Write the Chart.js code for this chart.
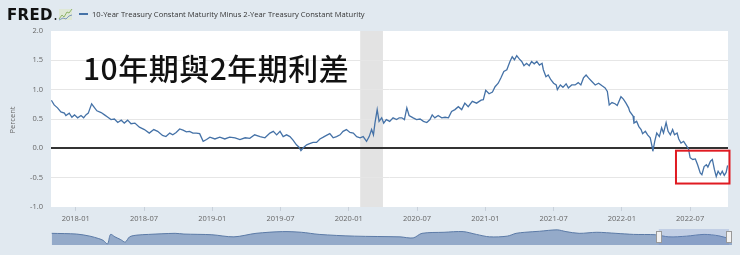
<!DOCTYPE html>
<html>
<head>
<meta charset="utf-8">
<script src="https://cdn.jsdelivr.net/npm/chart.js@4"></script>
<style>
  html, body { margin: 0; padding: 0; background: #e1e9f0; }
  #wrap { position: relative; width: 740px; height: 255px; background: #e1e9f0; }
  #main { position: absolute; left: 0; top: 0; }
  #nav { position: absolute; left: 51px; top: 229px; }
</style>
</head>
<body>
<div id="wrap">
  <canvas id="main" width="740" height="255"></canvas>
  <canvas id="nav" width="681" height="16"></canvas>
</div>
<script>
// 10-Year minus 2-Year Treasury spread (percent)
const dates = [
  '2017-10-27', '2017-11-04', '2017-11-13', '2017-11-22', '2017-12-01', '2017-12-05', '2017-12-14', '2017-12-21', '2017-12-28',
  '2018-01-06', '2018-01-15', '2018-01-22', '2018-01-28', '2018-02-04', '2018-02-13', '2018-02-20', '2018-02-27',
  '2018-03-08', '2018-03-17', '2018-03-26', '2018-04-04', '2018-04-13', '2018-04-22', '2018-05-01', '2018-05-09',
  '2018-05-18', '2018-05-27', '2018-06-07', '2018-06-19', '2018-07-02', '2018-07-15', '2018-07-27', '2018-08-07',
  '2018-08-20', '2018-08-29', '2018-09-09', '2018-09-17', '2018-09-26', '2018-10-05', '2018-10-14', '2018-10-23',
  '2018-11-01', '2018-11-10', '2018-11-19', '2018-11-28', '2018-12-07', '2018-12-16', '2018-12-25',
  '2019-01-08', '2019-01-21', '2019-02-04', '2019-02-17', '2019-03-01', '2019-03-14', '2019-03-28', '2019-04-10',
  '2019-04-23', '2019-05-07', '2019-05-20', '2019-06-03', '2019-06-12', '2019-06-21', '2019-06-30', '2019-07-08',
  '2019-07-17', '2019-07-26', '2019-08-04', '2019-08-13', '2019-08-20', '2019-08-25', '2019-09-01', '2019-09-10',
  '2019-09-18', '2019-09-27', '2019-10-06', '2019-10-15', '2019-10-24', '2019-11-02', '2019-11-11', '2019-11-20',
  '2019-11-29', '2019-12-08', '2019-12-16', '2019-12-25',
  '2020-01-04', '2020-01-13', '2020-01-22', '2020-01-31', '2020-02-09', '2020-02-18', '2020-02-25', '2020-03-01',
  '2020-03-06', '2020-03-10', '2020-03-16', '2020-03-21', '2020-03-28', '2020-04-03', '2020-04-10', '2020-04-19',
  '2020-04-28', '2020-05-07', '2020-05-14', '2020-05-21', '2020-05-28', '2020-06-04', '2020-06-10', '2020-06-21',
  '2020-06-30', '2020-07-09', '2020-07-18', '2020-07-27', '2020-08-05', '2020-08-11', '2020-08-18', '2020-08-27',
  '2020-09-06', '2020-09-15', '2020-09-24', '2020-10-02', '2020-10-11', '2020-10-20', '2020-10-29', '2020-11-07',
  '2020-11-16', '2020-11-27', '2020-12-08', '2020-12-20', '2020-12-26',
  '2021-01-02', '2021-01-11', '2021-01-20', '2021-01-27', '2021-02-05', '2021-02-12', '2021-02-20', '2021-02-28',
  '2021-03-06', '2021-03-12', '2021-03-18', '2021-03-24', '2021-04-01', '2021-04-07', '2021-04-13', '2021-04-20',
  '2021-04-27', '2021-05-03', '2021-05-10', '2021-05-17', '2021-05-24', '2021-05-31', '2021-06-04', '2021-06-11',
  '2021-06-17', '2021-06-24', '2021-07-01', '2021-07-08', '2021-07-11', '2021-07-19', '2021-07-26', '2021-08-04',
  '2021-08-10', '2021-08-19', '2021-08-28', '2021-09-06', '2021-09-13', '2021-09-20', '2021-09-27', '2021-10-03',
  '2021-10-12', '2021-10-21', '2021-10-30', '2021-11-08', '2021-11-17', '2021-11-23', '2021-11-28', '2021-12-05',
  '2021-12-13', '2021-12-19', '2021-12-29',
  '2022-01-05', '2022-01-12', '2022-01-19', '2022-01-22', '2022-01-31', '2022-02-03', '2022-02-10', '2022-02-16',
  '2022-02-22', '2022-02-26', '2022-03-03', '2022-03-09', '2022-03-16', '2022-03-21', '2022-03-23', '2022-03-28',
  '2022-04-03', '2022-04-10', '2022-04-16', '2022-04-21', '2022-04-28', '2022-05-03', '2022-05-09', '2022-05-15',
  '2022-05-20', '2022-05-27', '2022-06-01', '2022-06-07', '2022-06-14', '2022-06-20', '2022-06-27', '2022-07-01',
  '2022-07-08', '2022-07-15', '2022-07-21', '2022-07-28', '2022-08-02', '2022-08-08', '2022-08-14', '2022-08-18',
  '2022-08-25', '2022-08-30', '2022-09-05', '2022-09-10', '2022-09-15', '2022-09-21', '2022-09-26', '2022-10-01',
  '2022-10-06', '2022-10-10'
];
const spread = [
  0.82, 0.74, 0.69, 0.62, 0.60, 0.56, 0.60, 0.53, 0.57,
  0.52, 0.56, 0.52, 0.57, 0.60, 0.76, 0.70, 0.64,
  0.61, 0.57, 0.53, 0.49, 0.50, 0.44, 0.48, 0.43,
  0.48, 0.42, 0.43, 0.36, 0.32, 0.26, 0.32, 0.29,
  0.22, 0.20, 0.26, 0.23, 0.27, 0.33, 0.31, 0.28,
  0.29, 0.26, 0.26, 0.25, 0.12, 0.15, 0.19,
  0.16, 0.19, 0.16, 0.19, 0.18, 0.15, 0.18, 0.17,
  0.23, 0.20, 0.18, 0.26, 0.29, 0.23, 0.29, 0.20,
  0.23, 0.20, 0.14, 0.06, 0.02, -0.04, 0.01, 0.06,
  0.08, 0.10, 0.10, 0.16, 0.19, 0.22, 0.25, 0.18,
  0.20, 0.23, 0.29, 0.32,
  0.27, 0.26, 0.20, 0.18, 0.20, 0.12, 0.20, 0.32,
  0.23, 0.43, 0.66, 0.46, 0.52, 0.43, 0.49, 0.46,
  0.52, 0.49, 0.52, 0.52, 0.49, 0.69, 0.56, 0.52,
  0.49, 0.50, 0.46, 0.44, 0.49, 0.57, 0.52, 0.56,
  0.52, 0.53, 0.52, 0.63, 0.66, 0.71, 0.66, 0.77,
  0.71, 0.80, 0.77, 0.82, 0.83,
  0.99, 0.93, 0.96, 1.05, 1.11, 1.20, 1.31, 1.34,
  1.48, 1.56, 1.51, 1.58, 1.52, 1.48, 1.41, 1.45,
  1.41, 1.48, 1.44, 1.48, 1.42, 1.45, 1.34, 1.22,
  1.25, 1.17, 1.11, 1.08, 1.00, 1.08, 1.04, 1.10,
  1.03, 1.08, 1.08, 1.12, 1.08, 1.20, 1.25, 1.20,
  1.14, 1.08, 1.11, 1.07, 1.03, 0.97, 0.74, 0.78,
  0.76, 0.73, 0.88,
  0.84, 0.77, 0.69, 0.63, 0.55, 0.43, 0.46, 0.37,
  0.32, 0.25, 0.29, 0.23, 0.18, 0.03, -0.05, 0.12,
  0.26, 0.20, 0.35, 0.26, 0.44, 0.29, 0.23, 0.32,
  0.23, 0.26, 0.16, 0.09, 0.12, 0.06, -0.01, -0.16,
  -0.19, -0.18, -0.28, -0.42, -0.45, -0.31, -0.28, -0.32,
  -0.22, -0.19, -0.36, -0.48, -0.39, -0.45, -0.39, -0.46,
  -0.41, -0.29
];

const tickMonths = [0, 6, 12, 18, 24, 30, 36, 42, 48, 54];
const tickLabels = ['2018-01', '2018-07', '2019-01', '2019-07', '2020-01',
  '2020-07', '2021-01', '2021-07', '2022-01', '2022-07'];
const viewRange = ['2017-10-26', '2022-10-11'];
const recession = ['2020-02-01', '2020-04-01'];
const seriesName = '10-Year Treasury Constant Maturity Minus 2-Year Treasury Constant Maturity';
const note = '10年期與2年期利差';
const boxDates = ['2022-05-24', '2022-10-15'];
const boxValues = [-0.04, -0.6];

// navigator: whole history, coarse
const navYears = [1976.5, 1978.2, 1979.1, 1979.7, 1980.0, 1980.3, 1980.5, 1980.8, 1981.2,
  1981.5, 1981.8, 1982.3, 1983.1, 1984.9, 1985.5, 1987.4, 1988.9, 1990.4, 1992.2, 1993.5,
  1994.7, 1997.1, 2000.2, 2001.1, 2001.7, 2003.2, 2004.5, 2005.4, 2006.3, 2007.5, 2008.1,
  2008.7, 2009.7, 2010.9, 2011.5, 2012.4, 2013.6, 2014.9, 2016.1, 2017.6, 2018.5, 2019.7,
  2020.9, 2021.9, 2022.6, 2022.8];
const navSpread = [1.68, 1.43, 0.70, -0.16, -0.78, -2.0, 1.31, 0.45, -0.53,
  -1.39, 0.45, 1.06, 1.31, 1.68, 1.43, 1.19, 0.45, 1.68, 2.29, 2.05,
  1.31, 0.70, 0.45, 0.08, 1.68, 2.05, 2.29, 1.31, 0.45, 0.70, 1.68,
  2.05, 2.41, 2.90, 2.29, 1.68, 2.05, 1.68, 1.31, 1.19, 0.45, 0.70,
  1.31, 0.82, -0.16, -0.45];
const navWindow = [2017.82, 2022.8];

const lineColor = '#4572a7';
const font = '"Open Sans", "DejaVu Sans", sans-serif';

function toMonths(s) {
  const [y, m, d] = s.split('-').map(Number);
  return (y - 2018) * 12 + (m - 1) + (d - 1) / 30.4;
}

const chromePlugin = {
  id: 'chrome',
  beforeDraw(chart) {
    const { ctx, chartArea: a, scales } = chart;
    ctx.save();
    ctx.fillStyle = '#ffffff';
    ctx.fillRect(a.left, a.top, a.right - a.left, a.bottom - a.top);
    const x0 = scales.x.getPixelForValue(toMonths(recession[0]));
    const x1 = scales.x.getPixelForValue(toMonths(recession[1]));
    ctx.fillStyle = '#e3e3e3';
    ctx.fillRect(x0, a.top, x1 - x0, a.bottom - a.top);
    ctx.restore();
  },
  afterDraw(chart) {
    const { ctx, chartArea: a, scales } = chart;
    ctx.save();
    // FRED logo
    ctx.fillStyle = '#111';
    ctx.font = 'bold 15px "DejaVu Sans"';
    ctx.letterSpacing = '0.3px';
    ctx.textBaseline = 'alphabetic';
    ctx.fillText('FRED', 7, 20);
    ctx.letterSpacing = '0px';
    ctx.beginPath();
    ctx.arc(55.5, 19, 0.9, 0, Math.PI * 2);
    ctx.fill();
    // small graph icon
    ctx.fillStyle = '#dfe8d6';
    ctx.fillRect(59, 9, 13, 11);
    ctx.strokeStyle = '#8fb46a';
    ctx.lineWidth = 1;
    ctx.beginPath();
    ctx.moveTo(59, 19); ctx.lineTo(62, 15); ctx.lineTo(64, 17); ctx.lineTo(67, 12); ctx.lineTo(69, 13); ctx.lineTo(72, 9);
    ctx.stroke();
    ctx.strokeStyle = '#7d98bf';
    ctx.beginPath();
    ctx.moveTo(59, 20); ctx.lineTo(63, 18); ctx.lineTo(66, 19); ctx.lineTo(69, 16); ctx.lineTo(72, 15);
    ctx.stroke();
    // legend
    ctx.strokeStyle = lineColor;
    ctx.lineWidth = 2;
    ctx.beginPath();
    ctx.moveTo(79, 14); ctx.lineTo(88, 14);
    ctx.stroke();
    ctx.fillStyle = '#333';
    ctx.font = '7.6px ' + font;
    ctx.fillText(seriesName, 92, 17);
    // y axis title
    ctx.save();
    ctx.translate(15, 120);
    ctx.rotate(-Math.PI / 2);
    ctx.textAlign = 'center';
    ctx.fillStyle = '#666';
    ctx.font = '7.5px ' + font;
    ctx.fillText('Percent', 0, 0);
    ctx.restore();
    // big note
    ctx.fillStyle = '#111';
    ctx.font = '500 30px "Noto Sans CJK TC"';
    ctx.letterSpacing = '0.5px';
    ctx.fillText(note, a.left + 32, 80);
    ctx.letterSpacing = '0px';
    // red box
    const bx0 = scales.x.getPixelForValue(toMonths(boxDates[0]));
    const bx1 = scales.x.getPixelForValue(toMonths(boxDates[1]));
    const by0 = scales.y.getPixelForValue(boxValues[0]);
    const by1 = scales.y.getPixelForValue(boxValues[1]);
    ctx.strokeStyle = '#e01b22';
    ctx.lineWidth = 2;
    ctx.strokeRect(bx0, by0, bx1 - bx0, by1 - by0);
    ctx.restore();
  }
};

new Chart(document.getElementById('main'), {
  type: 'line',
  data: {
    datasets: [{
      label: seriesName,
      data: dates.map((d, i) => ({ x: toMonths(d), y: spread[i] })),
      borderColor: lineColor,
      borderWidth: 1.3,
      pointRadius: 0,
      tension: 0,
      fill: false
    }]
  },
  options: {
    responsive: false,
    animation: false,
    devicePixelRatio: 1,
    layout: { padding: { top: 31, right: 12, left: 0, bottom: 0 } },
    plugins: { legend: { display: false }, tooltip: { enabled: false } },
    scales: {
      x: {
        type: 'linear',
        min: toMonths(viewRange[0]),
        max: toMonths(viewRange[1]),
        afterBuildTicks: (axis) => { axis.ticks = tickMonths.map(v => ({ value: v })); },
        afterFit: (axis) => { axis.height = 48; },
        grid: { drawOnChartArea: false, drawTicks: true, tickLength: 4, color: '#c8d0da' },
        border: { display: false },
        ticks: {
          autoSkip: false,
          maxRotation: 0,
          padding: 3,
          color: '#666',
          font: { family: font, size: 7.5 },
          callback: (v, i) => tickLabels[i]
        }
      },
      y: {
        min: -1,
        max: 2,
        afterFit: (axis) => { axis.width = 51; },
        border: { display: false },
        grid: {
          drawTicks: false,
          color: (c) => c.tick.value === 0 ? '#333333' : (c.tick.value === 2 || c.tick.value === -1 ? 'rgba(0,0,0,0)' : '#e6e6e6'),
          lineWidth: (c) => c.tick.value === 0 ? 2 : 1
        },
        ticks: {
          stepSize: 0.5,
          padding: 8,
          color: '#666',
          font: { family: font, size: 7.5 },
          callback: (v) => v.toFixed(1)
        }
      }
    }
  },
  plugins: [chromePlugin]
});

const navPlugin = {
  id: 'navChrome',
  afterDraw(chart) {
    const { ctx, chartArea: a, scales } = chart;
    const x0 = scales.x.getPixelForValue(navWindow[0]);
    const x1 = Math.min(scales.x.getPixelForValue(navWindow[1]), a.right - 3);
    ctx.save();
    ctx.fillStyle = 'rgba(102,133,194,0.25)';
    ctx.fillRect(x0, a.top, x1 - x0, a.bottom - a.top);
    ctx.fillStyle = '#f2f2f2';
    ctx.strokeStyle = '#999';
    ctx.lineWidth = 1;
    [x0, x1].forEach(x => {
      ctx.fillRect(Math.round(x) - 2, 2, 5, 11);
      ctx.strokeRect(Math.round(x) - 2.5, 2.5, 5, 11);
    });
    ctx.restore();
  }
};

new Chart(document.getElementById('nav'), {
  type: 'line',
  data: {
    datasets: [{
      data: navYears.map((y, i) => ({ x: y, y: navSpread[i] })),
      borderColor: '#5b7aa6',
      borderWidth: 1,
      backgroundColor: '#94aac9',
      fill: 'start',
      pointRadius: 0,
      tension: 0.3
    }]
  },
  options: {
    responsive: false,
    animation: false,
    devicePixelRatio: 1,
    layout: { padding: 0 },
    plugins: { legend: { display: false }, tooltip: { enabled: false } },
    scales: {
      x: { type: 'linear', display: false, min: 1976.45, max: 2022.8 },
      y: { display: false, min: -2.4, max: 3.2 }
    }
  },
  plugins: [navPlugin]
});
</script>
</body>
</html>
